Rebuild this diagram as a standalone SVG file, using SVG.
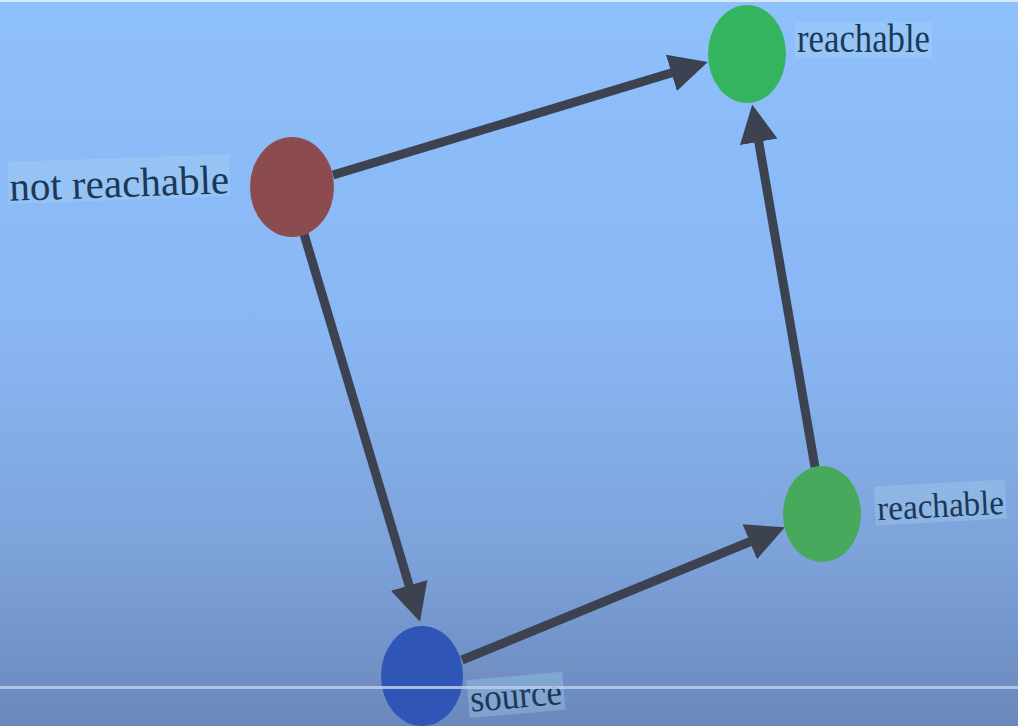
<svg xmlns="http://www.w3.org/2000/svg" width="1018" height="726" viewBox="0 0 1018 726">
  <defs>
    <linearGradient id="bg" x1="0" y1="0" x2="0" y2="1">
      <stop offset="0" stop-color="#8ec0fc"/>
      <stop offset="0.45" stop-color="#89b7f3"/>
      <stop offset="0.75" stop-color="#7ea3db"/>
      <stop offset="1" stop-color="#6a88bc"/>
    </linearGradient>
    <marker id="arrow" markerUnits="userSpaceOnUse" markerWidth="40" markerHeight="40" refX="10" refY="19" orient="auto" viewBox="0 0 40 38">
      <path d="M0,0 L38,19 L0,38 Z" fill="#3d4250"/>
    </marker>
    <style>
      .edge { stroke: #3d4250; stroke-width: 9; fill: none; marker-end: url(#arrow); }
      .hl { fill: #acd8ee; fill-opacity: 0.32; }
      .lbl { font-family: "Liberation Serif", "DejaVu Serif", serif; fill: #1c3858; }
    </style>
  </defs>
  <rect width="1018" height="726" fill="url(#bg)"/>
  <rect x="0" y="0" width="1018" height="2" fill="#d8e8fa"/>

  <g id="connectors">
    <line class="edge" x1="333" y1="175" x2="681" y2="70"/>
    <line class="edge" x1="304" y1="234" x2="412" y2="595"/>
    <line class="edge" x1="462" y1="660" x2="759" y2="538"/>
    <line class="edge" x1="815" y1="467" x2="757" y2="132"/>
  </g>

  <g id="node-not-reachable">
    <ellipse cx="292" cy="187" rx="42" ry="50" fill="#8c4b4f"/>
    <g transform="rotate(-2 120 180)">
      <rect class="hl" x="8" y="158" width="222" height="42"/>
      <text class="lbl" x="9" y="197" font-size="41" textLength="220" lengthAdjust="spacingAndGlyphs">not reachable</text>
    </g>
  </g>

  <g id="node-reachable-top">
    <ellipse cx="747" cy="54" rx="39" ry="49" fill="#34b45f"/>
    <rect class="hl" x="795" y="22" width="137" height="36"/>
    <text class="lbl" x="797" y="52" font-size="39" textLength="133" lengthAdjust="spacingAndGlyphs">reachable</text>
  </g>

  <g id="node-reachable-right">
    <ellipse cx="822" cy="514" rx="39" ry="48" fill="#46a95b"/>
    <g transform="rotate(-3 940 505)">
      <rect class="hl" x="875" y="483" width="131" height="39"/>
      <text class="lbl" x="877" y="517" font-size="35" textLength="127" lengthAdjust="spacingAndGlyphs">reachable</text>
    </g>
  </g>

  <g id="node-source">
    <ellipse cx="422" cy="676" rx="41" ry="50" fill="#2f56b6"/>
    <g transform="rotate(-5 515 695)">
      <rect class="hl" x="468" y="676" width="96" height="38"/>
      <text class="lbl" x="470" y="708" font-size="38" textLength="92" lengthAdjust="spacingAndGlyphs">source</text>
    </g>
  </g>

  <rect x="0" y="686" width="1018" height="3" fill="#bccde6" fill-opacity="0.85"/>
</svg>
